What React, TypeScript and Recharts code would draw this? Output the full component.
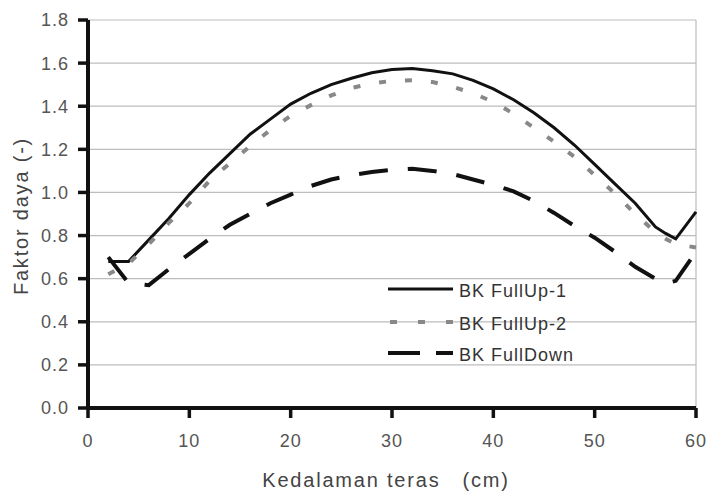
import React from "react";
import {
  LineChart,
  Line,
  XAxis,
  YAxis,
  CartesianGrid,
  ReferenceLine,
  Legend,
} from "recharts";

const depth = [2, 4, 6, 8, 10, 12, 14, 16, 18, 20, 22, 24, 26, 28, 30, 32, 34, 36, 38, 40, 42, 44, 46, 48, 50, 52, 54, 56, 57, 58, 60];
const fullUp1 = [0.68, 0.68, 0.78, 0.88, 0.99, 1.09, 1.18, 1.27, 1.34, 1.41, 1.46, 1.5, 1.53, 1.555, 1.57, 1.575, 1.565, 1.55, 1.52, 1.48, 1.43, 1.37, 1.3, 1.22, 1.13, 1.04, 0.95, 0.84, 0.81, 0.785, 0.91];
const fullUp2 = [0.62, 0.67, 0.76, 0.86, 0.95, 1.055, 1.135, 1.215, 1.29, 1.355, 1.405, 1.45, 1.485, 1.505, 1.518, 1.52, 1.512, 1.49, 1.46, 1.42, 1.365, 1.3, 1.235, 1.165, 1.08, 0.995, 0.9, 0.815, 0.785, 0.76, 0.745];
const fullDown = [0.7, 0.58, 0.57, 0.645, 0.715, 0.785, 0.85, 0.9, 0.95, 0.99, 1.03, 1.06, 1.08, 1.095, 1.105, 1.11, 1.1, 1.085, 1.06, 1.035, 1.005, 0.96, 0.905, 0.845, 0.79, 0.725, 0.655, 0.6, 0.578, 0.59, 0.725];

const xTicks = [0, 10, 20, 30, 40, 50, 60];
const yTicks = [0, 0.2, 0.4, 0.6, 0.8, 1.0, 1.2, 1.4, 1.6, 1.8];
const seriesNames = ["BK FullUp-1", "BK FullUp-2", "BK FullDown"];
const xTitle = "Kedalaman teras   (cm)";
const yTitle = "Faktor daya (-)";

const data = depth.map((d, i) => ({
  x: d,
  a: fullUp1[i],
  b: fullUp2[i],
  c: fullDown[i],
}));

const FONT = "'Liberation Sans', Arial, sans-serif";

const styles = [
  { stroke: "#111", strokeWidth: 3, dash: undefined as string | undefined, legendDash: undefined as string | undefined },
  { stroke: "#888", strokeWidth: 4, dash: "7 19", legendDash: "7 21" },
  { stroke: "#111", strokeWidth: 4, dash: "29 20", legendDash: "32 16" },
];

const LegendContent = () => (
  <svg width={240} height={100} style={{ display: "block" }}>
    {seriesNames.map((name, i) => {
      const y = [19, 52, 83][i];
      const s = styles[i];
      return (
        <g key={name}>
          <line
            x1={i === 1 ? 10 : 8}
            x2={73}
            y1={y}
            y2={y}
            stroke={s.stroke}
            strokeWidth={s.strokeWidth}
            strokeDasharray={s.legendDash}
          />
          <text
            x={79}
            y={y + 8}
            fontSize={18}
            letterSpacing={1}
            fill="#333"
            fontFamily={FONT}
          >
            {name}
          </text>
        </g>
      );
    })}
  </svg>
);

export default function App() {
  return (
    <div style={{ position: "absolute", left: 0, top: 0, width: 708, height: 496, background: "#fff" }}>
      <LineChart
        width={708}
        height={496}
        data={data}
        margin={{ top: 20, right: 12, left: 20, bottom: 28 }}
        style={{ fontFamily: FONT }}
      >
        <CartesianGrid vertical={false} stroke="#bdbdbd" strokeWidth={1.2} />
        <ReferenceLine x={60} stroke="#bdbdbd" strokeWidth={1.2} />
        <XAxis
          dataKey="x"
          type="number"
          domain={[0, 60]}
          ticks={xTicks}
          height={60}
          stroke="#111"
          strokeWidth={4}
          axisLine={{ stroke: "#111", strokeWidth: 4 }}
          tickLine={{ stroke: "#111", strokeWidth: 3.5 }}
          tickSize={10}
          tickMargin={16}
          tick={{ fill: "#555", fontSize: 18, fontFamily: FONT, letterSpacing: 1, stroke: "none" }}
          label={{
            content: () => (
              <text
                x={386}
                y={487}
                textAnchor="middle"
                fontSize={20}
                letterSpacing={1.8}
                fill="#444"
                fontFamily={FONT}
                style={{ whiteSpace: "pre" }}
              >
                {xTitle}
              </text>
            ),
          }}
        />
        <YAxis
          type="number"
          domain={[0, 1.8]}
          ticks={yTicks}
          width={68}
          interval={0}
          stroke="#111"
          strokeWidth={4}
          axisLine={{ stroke: "#111", strokeWidth: 4 }}
          tickLine={{ stroke: "#111", strokeWidth: 3.5 }}
          tickSize={10}
          tickMargin={9}
          tickFormatter={(v: number) => v.toFixed(1)}
          tick={{ fill: "#555", fontSize: 18, fontFamily: FONT, letterSpacing: 1, stroke: "none" }}
          label={{
            content: () => (
              <text
                x={21}
                y={216}
                transform="rotate(-90 21 216)"
                textAnchor="middle"
                dominantBaseline="central"
                fontSize={20}
                letterSpacing={1.8}
                fill="#444"
                fontFamily={FONT}
              >
                {yTitle}
              </text>
            ),
          }}
        />
        <ReferenceLine x={0} stroke="#111" strokeWidth={4} />
        <ReferenceLine y={0} stroke="#111" strokeWidth={4} />
        <Line
          dataKey="a"
          name={seriesNames[0]}
          stroke={styles[0].stroke}
          strokeWidth={styles[0].strokeWidth}
          dot={false}
          activeDot={false}
          isAnimationActive={false}
        />
        <Line
          dataKey="b"
          name={seriesNames[1]}
          stroke={styles[1].stroke}
          strokeWidth={styles[1].strokeWidth}
          strokeDasharray={styles[1].dash}
          dot={false}
          activeDot={false}
          isAnimationActive={false}
        />
        <Line
          dataKey="c"
          name={seriesNames[2]}
          stroke={styles[2].stroke}
          strokeWidth={styles[2].strokeWidth}
          strokeDasharray={styles[2].dash}
          dot={false}
          activeDot={false}
          isAnimationActive={false}
        />
        <Legend
          layout="vertical"
          align="center"
          verticalAlign="middle"
          content={() => <LegendContent />}
          wrapperStyle={{ position: "absolute", left: 380, top: 270, width: 240, height: 100 }}
        />
      </LineChart>
    </div>
  );
}
